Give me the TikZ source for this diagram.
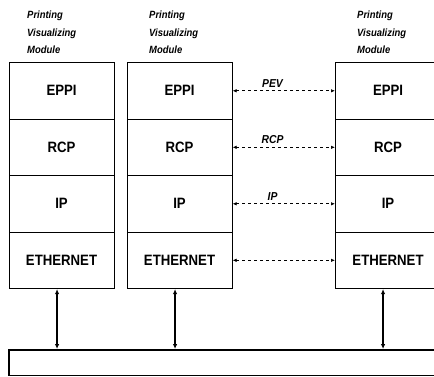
\documentclass[tikz,border=0pt]{standalone}
\usepackage{fontspec}
\setmainfont{Liberation Sans}
\newfontfamily\cellfont[FakeStretch=0.88]{Liberation Sans Bold}
\newfontfamily\labfont[FakeStretch=0.9]{Liberation Sans Bold Italic}
\usetikzlibrary{arrows.meta}
\begin{document}
\begin{tikzpicture}[x=1pt,y=-1pt,
  cell/.style={draw, line width=1.1pt, rectangle, minimum width=105pt, minimum height=56.5pt,
    anchor=north west, inner sep=0pt, font=\cellfont\fontsize{15}{15}\selectfont},
  modlabel/.style={anchor=north west, align=left, inner sep=0pt,
    font=\labfont\fontsize{10.5}{17.5}\selectfont},
  linklabel/.style={font=\labfont\fontsize{11.5}{12}\selectfont, inner sep=1pt},
  dasharrow/.style={dashed, dash pattern=on 3pt off 3pt, line width=0.7pt,
    {Latex[length=4pt,width=3.5pt]}-{Latex[length=4pt,width=3.5pt]}},
  biarrow/.style={line width=1.8pt, {Latex[length=5pt,width=4.5pt]}-{Latex[length=5pt,width=4.5pt]}},
  busbox/.style={draw, line width=1.6pt, rectangle, anchor=north west, minimum width=440pt,
    minimum height=25.5pt, inner sep=0pt}]
\clip (0,0) rectangle (434,376);
\fill[white] (0,0) rectangle (434,376);

% module labels
\node[modlabel] (m1) at (27,11) {Printing\\Visualizing\\Module};
\node[modlabel] (m2) at (149,11) {Printing\\Visualizing\\Module};
\node[modlabel] (m3) at (357,11) {Printing\\Visualizing\\Module};

% column 1
\node[cell] (a1) at (8.5,62) {EPPI};
\node[cell] (a2) at (8.5,118.5) {RCP};
\node[cell] (a3) at (8.5,175) {IP};
\node[cell] (a4) at (8.5,231.5) {ETHERNET};
% column 2
\node[cell] (b1) at (126.5,62) {EPPI};
\node[cell] (b2) at (126.5,118.5) {RCP};
\node[cell] (b3) at (126.5,175) {IP};
\node[cell] (b4) at (126.5,231.5) {ETHERNET};
% column 3 (cut by the right edge)
\node[cell] (c1) at (335,62) {EPPI};
\node[cell] (c2) at (335,118.5) {RCP};
\node[cell] (c3) at (335,175) {IP};
\node[cell] (c4) at (335,231.5) {ETHERNET};

% bus
\node[busbox] (bus) at (8,349) {};

% peer links
\draw[dasharrow] (b1.east) -- (c1.west) node[linklabel, pos=0.39, above=2pt] {PEV};
\draw[dasharrow] (b2.east) -- (c2.west) node[linklabel, pos=0.39, above=2pt] {RCP};
\draw[dasharrow] (b3.east) -- (c3.west) node[linklabel, pos=0.39, above=2pt] {IP};
\draw[dasharrow] (b4.east) -- (c4.west);

% links to bus
\coordinate (p1) at ([xshift=-4.5pt]a4.south);
\coordinate (p2) at ([xshift=-4.5pt]b4.south);
\coordinate (p3) at ([xshift=-5pt]c4.south);
\draw[biarrow] (p1) -- (p1 |- bus.north);
\draw[biarrow] (p2) -- (p2 |- bus.north);
\draw[biarrow] (p3) -- (p3 |- bus.north);
\end{tikzpicture}
\end{document}
